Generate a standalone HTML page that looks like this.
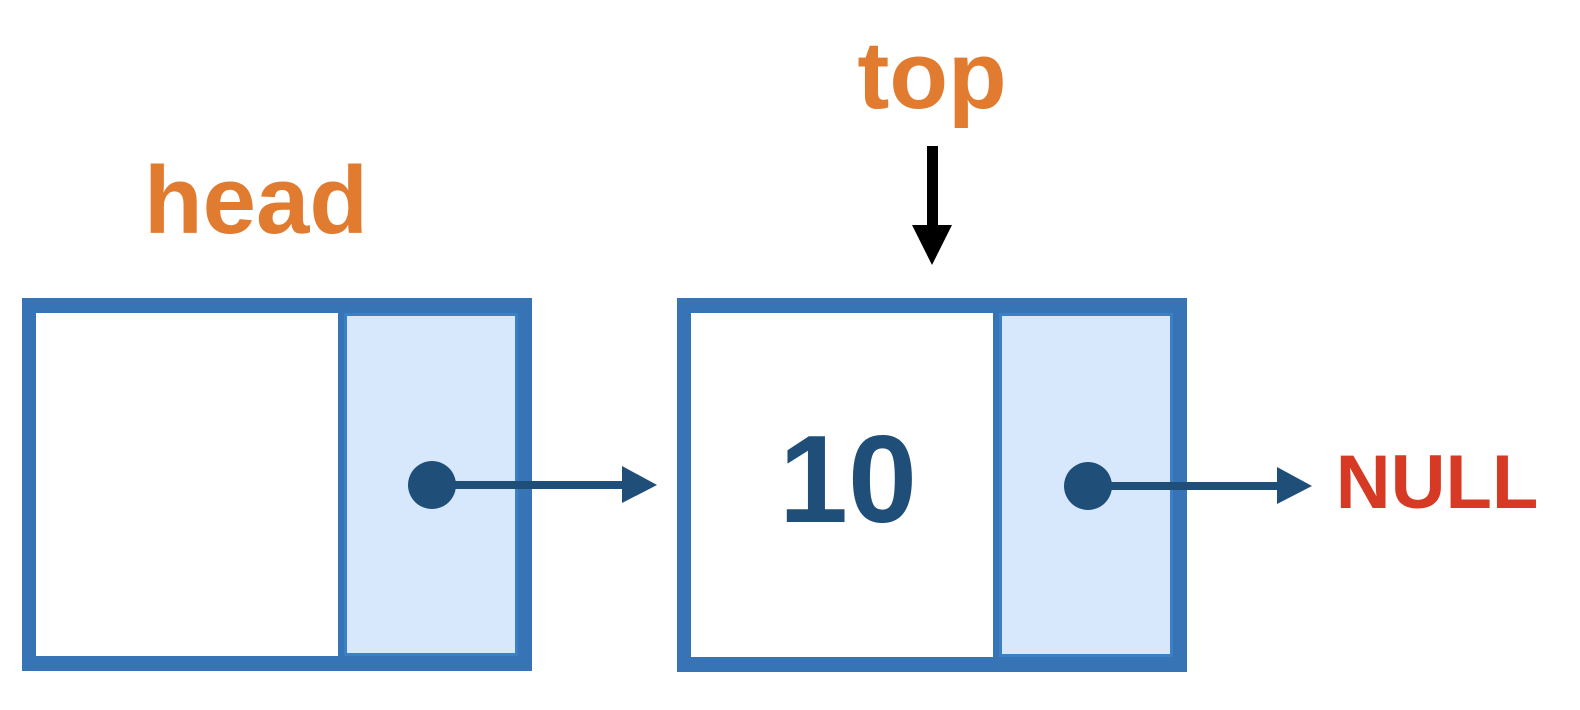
<!DOCTYPE html>
<html><head><meta charset="utf-8"><style>
html,body{margin:0;padding:0;background:#fff;width:1580px;height:710px;overflow:hidden}
text{font-family:"Liberation Sans","DejaVu Sans",sans-serif;font-weight:bold}
</style></head><body>
<svg width="1580" height="710" viewBox="0 0 1580 710">
<defs></defs>
<text x="256" y="233" font-size="96" fill="#e07b30" text-anchor="middle">head</text>
<text x="932" y="108" font-size="96" fill="#e07b30" text-anchor="middle">top</text>
<g>
<rect x="927" y="146" width="11" height="82" fill="#000"/>
<polygon points="912,225 952,225 932,265" fill="#000"/>
</g>
<g>
<rect x="22" y="298" width="510" height="373" fill="#3674b5"/>
<rect x="36" y="313" width="302" height="343" fill="#fff"/>
<rect x="344" y="313" width="174" height="343" fill="#3b80c6"/>
<rect x="347" y="316" width="168" height="337" fill="#d7e8fd"/>
</g>
<g>
<rect x="677" y="298" width="510" height="374" fill="#3674b5"/>
<rect x="691" y="313" width="302" height="344" fill="#fff"/>
<rect x="999" y="313" width="174" height="344" fill="#3b80c6"/>
<rect x="1002" y="316" width="168" height="338" fill="#d7e8fd"/>
<text x="848" y="522" font-size="124" fill="#1f4e79" text-anchor="middle">10</text>
</g>
<g>
<rect x="432" y="481" width="192" height="8" fill="#1f4e79"/>
<circle cx="432" cy="485" r="24" fill="#1f4e79"/>
<polygon points="622,466 657,485 622,503" fill="#1f4e79"/>
</g>
<g>
<rect x="1088" y="482" width="192" height="8" fill="#1f4e79"/>
<circle cx="1088" cy="486" r="24" fill="#1f4e79"/>
<polygon points="1277,467 1312,486 1277,504" fill="#1f4e79"/>
</g>
<text x="1437" y="508" font-size="76" fill="#d63a24" text-anchor="middle">NULL</text>
</svg>
</body></html>
